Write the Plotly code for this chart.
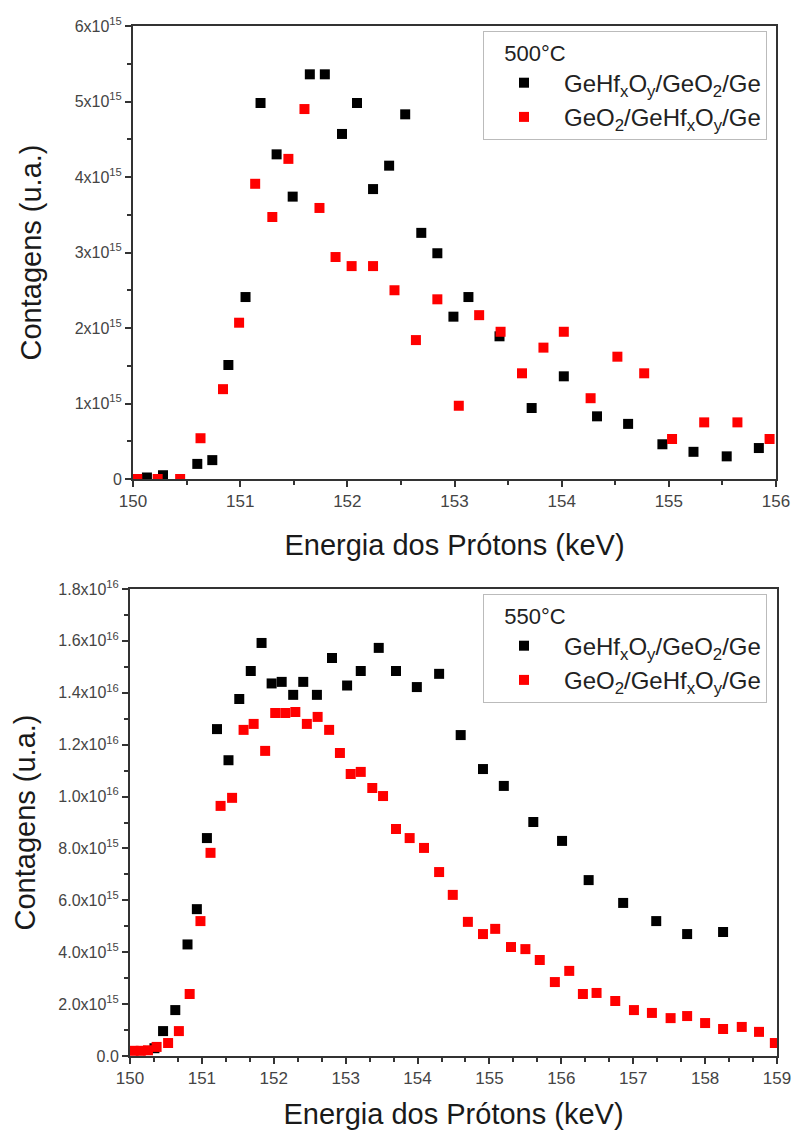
import plotly.graph_objects as go

# ---------------- data: 500 °C panel ----------------
x500_black = [150.13, 150.28, 150.60, 150.74, 150.89, 151.05, 151.19, 151.34, 151.49, 151.65,
              151.79, 151.95, 152.09, 152.24, 152.39, 152.54, 152.69, 152.84, 152.99, 153.13,
              153.42, 153.72, 154.02, 154.33, 154.62, 154.94, 155.23, 155.54, 155.84]
y500_black = [0.02, 0.05, 0.20, 0.25, 1.51, 2.41, 4.98, 4.30, 3.74, 5.36,
              5.36, 4.57, 4.98, 3.84, 4.15, 4.83, 3.26, 2.99, 2.15, 2.41,
              1.89, 0.94, 1.36, 0.83, 0.73, 0.46, 0.36, 0.30, 0.41]
x500_red = [150.04, 150.23, 150.44, 150.63, 150.84, 150.99, 151.14, 151.30, 151.45, 151.60,
            151.74, 151.89, 152.04, 152.24, 152.44, 152.64, 152.84, 153.04, 153.23, 153.43,
            153.63, 153.83, 154.02, 154.27, 154.52, 154.77, 155.03, 155.33, 155.64, 155.94]
y500_red = [0.0, 0.0, 0.0, 0.54, 1.19, 2.07, 3.91, 3.47, 4.24, 4.90,
            3.59, 2.94, 2.82, 2.82, 2.50, 1.84, 2.38, 0.97, 2.17, 1.95,
            1.40, 1.74, 1.95, 1.07, 1.62, 1.40, 0.53, 0.75, 0.75, 0.53]

# ---------------- data: 550 °C panel ----------------
x550_black = [150.34, 150.46, 150.63, 150.80, 150.93, 151.07, 151.21, 151.37, 151.52, 151.68,
              151.83, 151.97, 152.11, 152.27, 152.41, 152.60, 152.81, 153.02, 153.21, 153.46,
              153.70, 153.99, 154.30, 154.60, 154.91, 155.20, 155.61, 156.01, 156.38, 156.86,
              157.32, 157.75, 158.25]
y550_black = [0.30, 0.96, 1.77, 4.30, 5.66, 8.40, 12.60, 11.40, 13.76, 14.84,
              15.92, 14.36, 14.42, 13.92, 14.42, 13.92, 15.34, 14.28, 14.84, 15.73,
              14.84, 14.22, 14.73, 12.37, 11.06, 10.41, 9.02, 8.29, 6.78, 5.90,
              5.20, 4.70, 4.78]
x550_red = [150.05, 150.15, 150.25, 150.37, 150.53, 150.68, 150.83, 150.98, 151.12, 151.26,
            151.42, 151.58, 151.72, 151.88, 152.02, 152.16, 152.30, 152.46, 152.61, 152.77,
            152.92, 153.07, 153.21, 153.37, 153.52, 153.70, 153.89, 154.09, 154.30, 154.49,
            154.70, 154.91, 155.08, 155.30, 155.50, 155.70, 155.91, 156.11, 156.30, 156.49,
            156.75, 157.01, 157.26, 157.52, 157.75, 158.00, 158.25, 158.51, 158.75, 158.97]
y550_red = [0.20, 0.20, 0.22, 0.35, 0.50, 0.96, 2.39, 5.20, 7.83, 9.64,
            9.95, 12.57, 12.80, 11.76, 13.22, 13.22, 13.26, 12.80, 13.07, 12.57,
            11.68, 10.87, 10.95, 10.33, 10.02, 8.75, 8.40, 8.02, 7.09, 6.21,
            5.17, 4.70, 4.90, 4.20, 4.12, 3.70, 2.85, 3.28, 2.39, 2.43,
            2.12, 1.77, 1.66, 1.46, 1.54, 1.27, 1.04, 1.12, 0.93, 0.50]

# ---------------- ticks / labels ----------------
top_xticks = [150, 151, 152, 153, 154, 155, 156]
top_yticks = [0, 1, 2, 3, 4, 5, 6]
top_ytext = ["0", "1x10<sup>15</sup>", "2x10<sup>15</sup>", "3x10<sup>15</sup>",
             "4x10<sup>15</sup>", "5x10<sup>15</sup>", "6x10<sup>15</sup>"]
bot_xticks = [150, 151, 152, 153, 154, 155, 156, 157, 158, 159]
bot_yticks = [0, 2, 4, 6, 8, 10, 12, 14, 16, 18]
bot_ytext = ["0.0", "2.0x10<sup>15</sup>", "4.0x10<sup>15</sup>", "6.0x10<sup>15</sup>",
             "8.0x10<sup>15</sup>", "1.0x10<sup>16</sup>", "1.2x10<sup>16</sup>",
             "1.4x10<sup>16</sup>", "1.6x10<sup>16</sup>", "1.8x10<sup>16</sup>"]
name_a = "GeHf<sub>x</sub>O<sub>y</sub>/GeO<sub>2</sub>/Ge"
name_b = "GeO<sub>2</sub>/GeHf<sub>x</sub>O<sub>y</sub>/Ge"
title_a = "\u00a0\u00a0\u00a0500°C"
title_b = "\u00a0\u00a0\u00a0550°C"

W, H = 793, 1130
FONT = "Liberation Sans, Arial, sans-serif"

fig = go.Figure()
fig.add_trace(go.Scatter(x=x500_black, y=[v * 1e15 for v in y500_black], mode="markers",
                         marker=dict(symbol="square", size=10, color="black"),
                         name=name_a, xaxis="x", yaxis="y", legend="legend"))
fig.add_trace(go.Scatter(x=x500_red, y=[v * 1e15 for v in y500_red], mode="markers",
                         marker=dict(symbol="square", size=10, color="#ff0000"),
                         name=name_b, xaxis="x", yaxis="y", legend="legend"))
fig.add_trace(go.Scatter(x=x550_black, y=[v * 1e15 for v in y550_black], mode="markers",
                         marker=dict(symbol="square", size=10, color="black"),
                         name=name_a, xaxis="x2", yaxis="y2", legend="legend2"))
fig.add_trace(go.Scatter(x=x550_red, y=[v * 1e15 for v in y550_red], mode="markers",
                         marker=dict(symbol="square", size=10, color="#ff0000"),
                         name=name_b, xaxis="x2", yaxis="y2", legend="legend2"))

axis_common = dict(showline=True, linecolor="#333333", linewidth=2, mirror=True,
                   ticks="outside", ticklen=6, tickwidth=1.5, tickcolor="#333333",
                   showgrid=False, zeroline=False, automargin=False,
                   tickfont=dict(family=FONT, size=16, color="#444444"),
                   title_font=dict(family=FONT, size=29, color="#1a1a1a"))
xtickfont = dict(family=FONT, size=17, color="#444444")

legend_common = dict(xanchor="right", yanchor="top",
                     bgcolor="white", bordercolor="#bbbbbb", borderwidth=1,
                     font=dict(family=FONT, size=24, color="#222222"),
                     itemwidth=70)

fig.update_layout(
    width=W, height=H, margin=dict(l=0, r=0, t=0, b=0),
    paper_bgcolor="white", plot_bgcolor="white",
    xaxis=dict(axis_common, domain=[133 / W, 776 / W], range=[150, 156],
               tickvals=top_xticks, ticktext=[str(v) for v in top_xticks], tickfont=xtickfont,
               minor=dict(dtick=0.5, tick0=150, ticks="outside", ticklen=4, tickcolor="#333333"),
               title=dict(text="Energia dos Prótons (keV)", standoff=24),
               anchor="y"),
    yaxis=dict(axis_common, domain=[1 - 479 / H, 1 - 26 / H], range=[0, 6e15],
               tickvals=[v * 1e15 for v in top_yticks], ticktext=top_ytext,
               minor=dict(dtick=0.5e15, tick0=0, ticks="outside", ticklen=4, tickcolor="#333333"),
               title=dict(text="Contagens (u.a.)", standoff=24),
               anchor="x"),
    xaxis2=dict(axis_common, domain=[130 / W, 777 / W], range=[150, 159],
                tickvals=bot_xticks, ticktext=[str(v) for v in bot_xticks], tickfont=xtickfont,
                minor=dict(dtick=1 / 3, tick0=150, ticks="outside", ticklen=4, tickcolor="#333333"),
                title=dict(text="Energia dos Prótons (keV)", standoff=17),
                anchor="y2"),
    yaxis2=dict(axis_common, domain=[1 - 1056 / H, 1 - 589 / H], range=[0, 1.8e16],
                tickvals=[v * 1e15 for v in bot_yticks], ticktext=bot_ytext,
                minor=dict(dtick=1e15, tick0=0, ticks="outside", ticklen=4, tickcolor="#333333"),
                title=dict(text="Contagens (u.a.)", standoff=14),
                anchor="x2"),
    legend=dict(legend_common, x=767 / W, y=1 - 31 / H,
                title=dict(text=title_a, font=dict(family=FONT, size=22, color="#222222"))),
    legend2=dict(legend_common, x=767 / W, y=1 - 594 / H,
                 title=dict(text=title_b, font=dict(family=FONT, size=22, color="#222222"))),
)

fig.write_html("out.html")
